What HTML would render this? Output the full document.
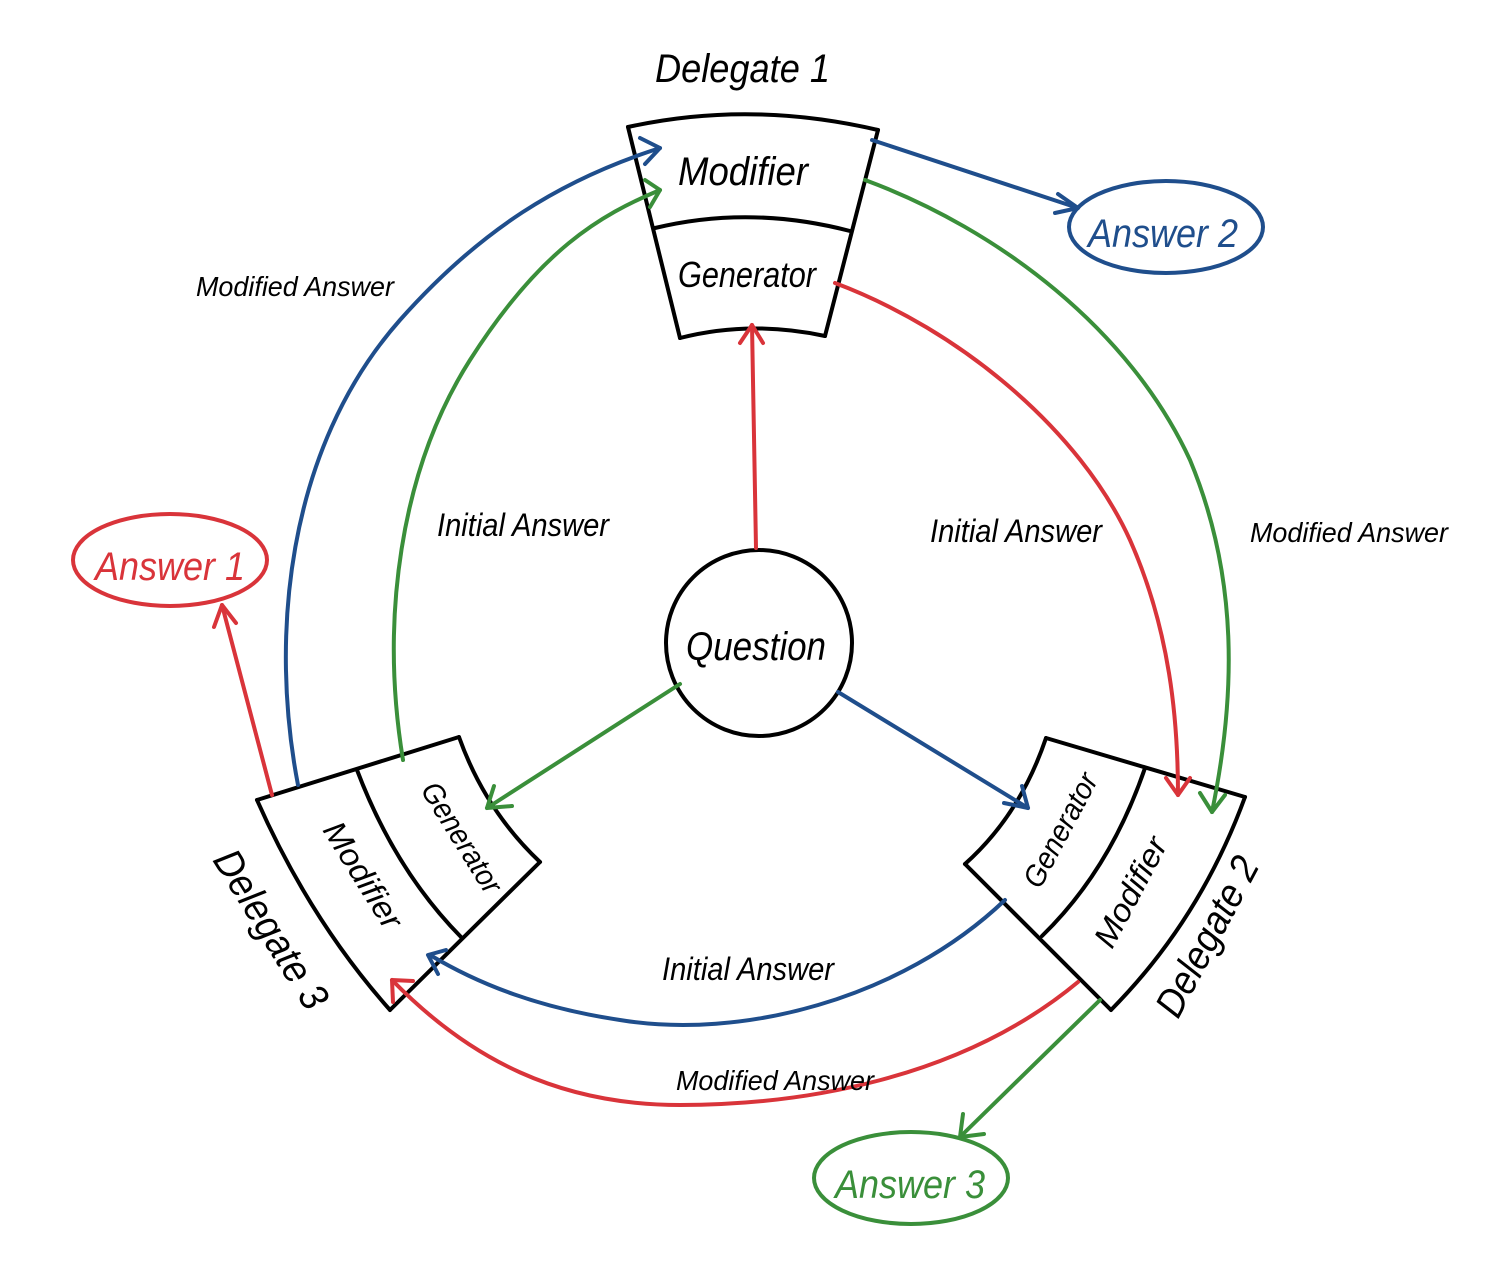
<!DOCTYPE html>
<html><head><meta charset="utf-8"><style>
html,body{margin:0;padding:0;background:#fff;}
svg{display:block;}
text{font-family:"Liberation Sans",sans-serif;font-style:italic;}
</style></head><body>
<svg width="1487" height="1279" viewBox="0 0 1487 1279" xmlns="http://www.w3.org/2000/svg">
<g fill="none" stroke-width="4" stroke-linecap="round" stroke-linejoin="round">
<g stroke="#000">
<path d="M628,127 Q750,100 878,130"/>
<path d="M628,127 L680,338"/>
<path d="M878,130 L825,336"/>
<path d="M655,228 Q750,205 850,231"/>
<path d="M680,338 Q750,320 825,336"/>
<path d="M257,800 L459,737"/>
<path d="M459,737 Q485,810 540,862"/>
<path d="M540,862 L390,1010"/>
<path d="M257,800 Q310,920 390,1010"/>
<path d="M357,770 Q395,870 461,937"/>
<path d="M1046,738 L1245,797"/>
<path d="M1245,797 Q1200,920 1111,1010"/>
<path d="M1111,1010 L965,864"/>
<path d="M1046,738 Q1020,815 965,864"/>
<path d="M1145,768 Q1110,870 1042,936"/>
<circle cx="759" cy="643" r="93"/>
</g>
<g stroke="#1f4e8c">
<path d="M298,785 C270,640 285,450 400,320 C480,230 560,180 660,148"/>
<path d="M640,138 L660,148 L645,164"/>
<path d="M872,140 L1078,208"/>
<path d="M1058,194 L1078,208 L1055,213"/>
<path d="M838,692 L1028,808"/>
<path d="M1004,803 L1028,808 L1022,786"/>
<path d="M1005,900 C900,1000 740,1040 620,1020 C540,1008 480,985 430,955"/>
<path d="M438,974 L428,955 L446,950"/>
<ellipse cx="1166" cy="227" rx="97" ry="46"/>
</g>
<g stroke="#3a8f3a">
<path d="M403,760 C380,620 400,470 470,360 C540,250 600,215 660,190"/>
<path d="M645,180 L660,190 L650,207"/>
<path d="M865,180 C1000,230 1130,330 1190,460 C1240,580 1235,700 1212,812"/>
<path d="M1200,793 L1212,812 L1225,795"/>
<path d="M680,684 L487,808"/>
<path d="M494,786 L487,808 L512,806"/>
<path d="M1100,1000 L960,1137"/>
<path d="M963,1114 L960,1137 L984,1134"/>
<ellipse cx="911" cy="1178" rx="97" ry="46"/>
</g>
<g stroke="#d9343a">
<path d="M756,548 L752,325"/>
<path d="M740,343 L752,325 L763,343"/>
<path d="M835,283 C960,330 1080,430 1130,540 C1170,630 1178,720 1178,795"/>
<path d="M1166,778 L1178,795 L1190,778"/>
<path d="M272,795 L222,605"/>
<path d="M214,627 L222,605 L236,623"/>
<path d="M1078,982 C960,1080 800,1105 680,1105 C560,1105 470,1060 392,980"/>
<path d="M393,1002 L392,980 L413,981"/>
<ellipse cx="170" cy="560" rx="97" ry="46"/>
</g>
</g>
<g fill="#000">
<text x="655" y="82" font-size="40" textLength="175" lengthAdjust="spacingAndGlyphs">Delegate 1</text>
<text x="678" y="185" font-size="40" textLength="130" lengthAdjust="spacingAndGlyphs">Modifier</text>
<text x="678" y="287" font-size="36" textLength="138" lengthAdjust="spacingAndGlyphs">Generator</text>
<text x="686" y="660" font-size="40" textLength="140" lengthAdjust="spacingAndGlyphs">Question</text>
<text x="196" y="296" font-size="28" textLength="198" lengthAdjust="spacingAndGlyphs">Modified Answer</text>
<text x="437" y="536" font-size="32" textLength="172" lengthAdjust="spacingAndGlyphs">Initial Answer</text>
<text x="930" y="542" font-size="32" textLength="172" lengthAdjust="spacingAndGlyphs">Initial Answer</text>
<text x="1250" y="542" font-size="28" textLength="198" lengthAdjust="spacingAndGlyphs">Modified Answer</text>
<text x="662" y="980" font-size="32" textLength="172" lengthAdjust="spacingAndGlyphs">Initial Answer</text>
<text x="676" y="1090" font-size="28" textLength="198" lengthAdjust="spacingAndGlyphs">Modified Answer</text>
<text transform="translate(420,790) rotate(58)" font-size="30" textLength="125" lengthAdjust="spacingAndGlyphs">Generator</text>
<text transform="translate(322,830) rotate(58)" font-size="32" textLength="120" lengthAdjust="spacingAndGlyphs">Modifier</text>
<text transform="translate(212,860) rotate(58)" font-size="40" textLength="180" lengthAdjust="spacingAndGlyphs">Delegate 3</text>
<text transform="translate(1040,890) rotate(-62)" font-size="30" textLength="125" lengthAdjust="spacingAndGlyphs">Generator</text>
<text transform="translate(1112,950) rotate(-62)" font-size="32" textLength="120" lengthAdjust="spacingAndGlyphs">Modifier</text>
<text transform="translate(1178,1020) rotate(-62)" font-size="40" textLength="175" lengthAdjust="spacingAndGlyphs">Delegate 2</text>
</g>
<text x="1088" y="247" font-size="40" fill="#1f4e8c" textLength="150" lengthAdjust="spacingAndGlyphs">Answer 2</text>
<text x="95" y="580" font-size="40" fill="#d9343a" textLength="150" lengthAdjust="spacingAndGlyphs">Answer 1</text>
<text x="835" y="1198" font-size="40" fill="#3a8f3a" textLength="150" lengthAdjust="spacingAndGlyphs">Answer 3</text>
</svg>
</body></html>
